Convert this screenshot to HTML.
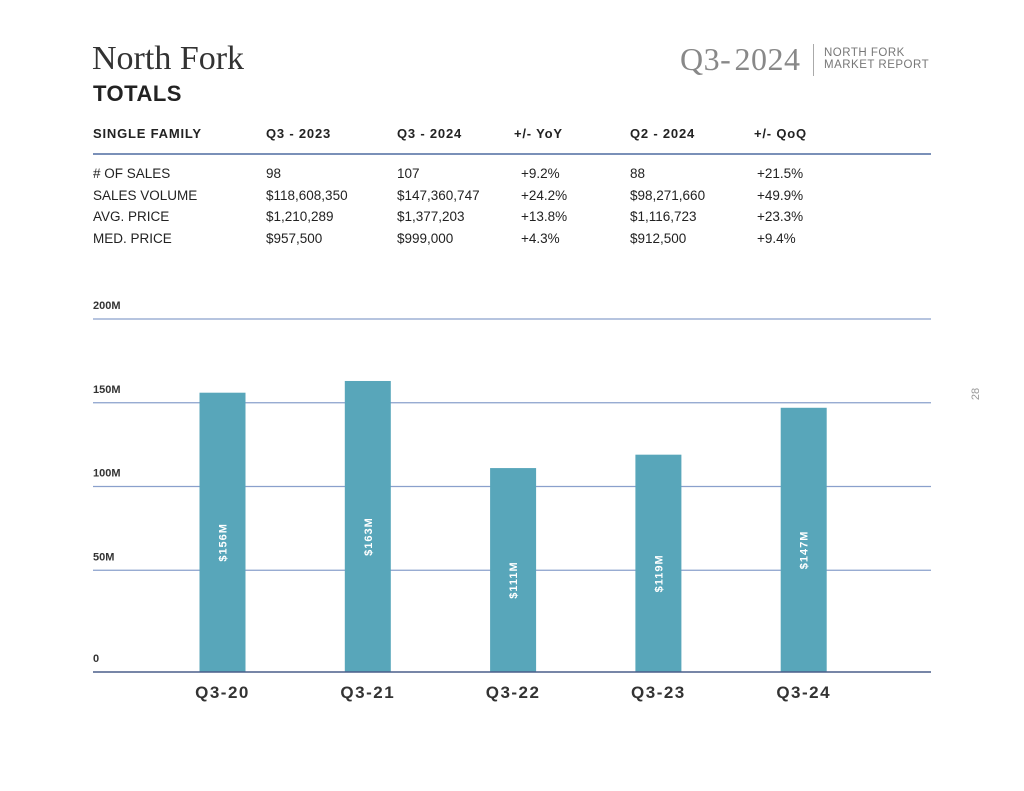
<!DOCTYPE html>
<html><head><meta charset="utf-8"><style>
body{margin:0;background:#fff;}
#page{position:relative;width:1024px;height:791px;overflow:hidden;font-family:"Liberation Sans",sans-serif;color:#222;}
.t{position:absolute;white-space:nowrap;}
.hd{font-weight:bold;font-size:13px;letter-spacing:0.8px;top:126px;}
.cell{font-size:13.5px;color:#222;}
</style></head><body>
<div id="page">
<div class="t" style="left:92px;top:40px;font-family:'Liberation Serif',serif;font-size:34px;color:#333;">North Fork</div>
<div class="t" style="left:93px;top:81px;font-size:22px;font-weight:bold;letter-spacing:0.5px;color:#222;">TOTALS</div>
<div class="t" style="left:680px;top:41px;font-family:'Liberation Serif',serif;font-size:32px;color:#888;letter-spacing:0.5px;">Q3-&#8202;2024</div>
<div style="position:absolute;left:813px;top:44px;width:1px;height:32px;background:#aaa;"></div>
<div class="t" style="left:824px;top:47px;font-size:11.5px;line-height:12px;color:#777;letter-spacing:0.5px;">NORTH FORK<br>MARKET REPORT</div>
<div class="t" style="left:970px;top:388px;font-size:11px;color:#999;transform:rotate(-90deg);">28</div>

<div class="t hd" style="left:93px;">SINGLE FAMILY</div>
<div class="t hd" style="left:266px;">Q3 - 2023</div>
<div class="t hd" style="left:397px;">Q3 - 2024</div>
<div class="t hd" style="left:514px;">+/- YoY</div>
<div class="t hd" style="left:630px;">Q2 - 2024</div>
<div class="t hd" style="left:754px;">+/- QoQ</div>
<div style="position:absolute;left:93px;top:153px;width:838px;height:2px;background:#7a90b8;"></div>
<div id="rows"></div>

<svg id="chart" width="1024" height="791" style="position:absolute;left:0;top:0;"></svg>
</div>
<script>
const rowLabels=["# OF SALES","SALES VOLUME","AVG. PRICE","MED. PRICE"];
const colQ32023=["98","$118,608,350","$1,210,289","$957,500"];
const colQ32024=["107","$147,360,747","$1,377,203","$999,000"];
const colYoY=["+9.2%","+24.2%","+13.8%","+4.3%"];
const colQ22024=["88","$98,271,660","$1,116,723","$912,500"];
const colQoQ=["+21.5%","+49.9%","+23.3%","+9.4%"];
const categories=["Q3-20","Q3-21","Q3-22","Q3-23","Q3-24"];
const values=[156,163,111,119,147];
const barLabels=["$156M","$163M","$111M","$119M","$147M"];
const ticks=[0,50,100,150,200];
const tickLabels=["0","50M","100M","150M","200M"];

const rowsEl=document.getElementById('rows');
const cols=[rowLabels,colQ32023,colQ32024,colYoY,colQ22024,colQoQ];
const colX=[93,266,397,521,630,757];
for(let r=0;r<rowLabels.length;r++){
  for(let c=0;c<cols.length;c++){
    const d=document.createElement('div');
    d.className='t cell';
    d.style.left=colX[c]+'px';
    d.style.top=(166+r*21.5)+'px';
    d.textContent=cols[c][r];
    
    
    rowsEl.appendChild(d);
  }
}

const svg=document.getElementById('chart');
const NS='http://www.w3.org/2000/svg';
const y0=654, pxPerM=(654-319)/200, base=672;
const y=v=>y0-v*pxPerM;
const x=i=>222.5+i*145.3;
function mk(tag,attrs){const e=document.createElementNS(NS,tag);for(const k in attrs)e.setAttribute(k,attrs[k]);svg.appendChild(e);return e;}
ticks.forEach((t,i)=>{
  if(t>0){
    const l=mk('line',{x1:93,x2:931,y1:y(t),y2:y(t),stroke:'#8aa0cc','stroke-width':1.2});
    
    
  }
  const tx=mk('text',{x:93,y:(t===0?y(t)+8:y(t)-10),'font-size':11,'font-weight':'bold',fill:'#333','font-family':'Liberation Sans, sans-serif'});
  tx.textContent=tickLabels[i];
  
  
});
values.forEach((v,i)=>{
  const r=mk('rect',{x:x(i)-23,y:y(v),width:46,height:base-y(v),fill:'#58a6ba'});
  
  
  const cy=(y(v)+base)/2+10;
  const t=mk('text',{x:x(i)+4,y:cy,'font-size':11,'font-weight':'bold',fill:'#fff','text-anchor':'middle','letter-spacing':1,'font-family':'Liberation Sans, sans-serif',transform:`rotate(-90 ${x(i)+4} ${cy})`});
  t.textContent=barLabels[i];
  
  
  const c=mk('text',{x:x(i),y:698,'font-size':17,'font-weight':'bold',fill:'#333','text-anchor':'middle','letter-spacing':1.5,'font-family':'Liberation Sans, sans-serif'});
  c.textContent=categories[i];
  
  
});
const ax=mk('line',{x1:93,x2:931,y1:base,y2:base,stroke:'#4a5f8a','stroke-width':1.5});


</script>
</body></html>
